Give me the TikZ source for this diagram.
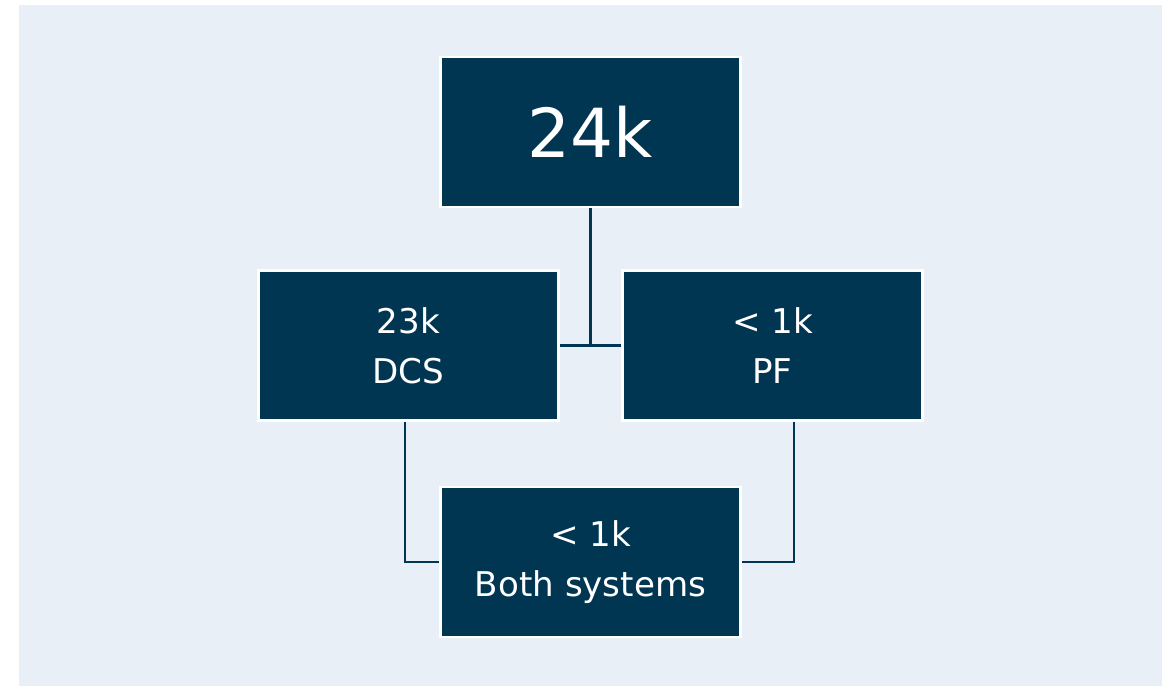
\documentclass[tikz,border=0pt]{standalone}
\usepackage{fontspec}
\setmainfont{DejaVu Sans}
\definecolor{navy}{RGB}{0,54,82}
\definecolor{paleblue}{RGB}{232,239,247}
\usepackage{tikz}
\usetikzlibrary{positioning,calc}

\begin{document}
\begin{tikzpicture}[x=0.02cm,y=-0.02cm,
        box/.style={draw=white,fill=navy,line width=1.4pt,minimum width=6cm,minimum height=3cm,text=white,align=center,inner sep=0pt},
        small/.style={font=\fontsize{19.4}{28.5}\selectfont},
        link/.style={draw=navy,line width=1.5pt},
    ]
    \useasboundingbox (0,0) rectangle (1170,686);
    \fill[paleblue] (19,5) rectangle (1162,686);

    \node[box,font=\fontsize{38.5}{40}\selectfont] (total) at (590.5,132) {24k};
    \node[box,small] (dcs) at (408.5,345.5) {23k\\DCS};
    \node[box,small] (pf)  at (772.5,345.5) {< 1k\\PF};
    \node[box,small] (both) at (590.5,562) {< 1k\\Both systems};

    \draw[link] (dcs.east) -- (pf.west);
    \draw[link] (total.south) -- (total.south |- dcs.east);
    \draw[link] ([xshift=-0.07cm]dcs.south) |- (both.west);
    \draw[link] ([xshift=0.43cm]pf.south) |- (both.east);
\end{tikzpicture}
\end{document}
